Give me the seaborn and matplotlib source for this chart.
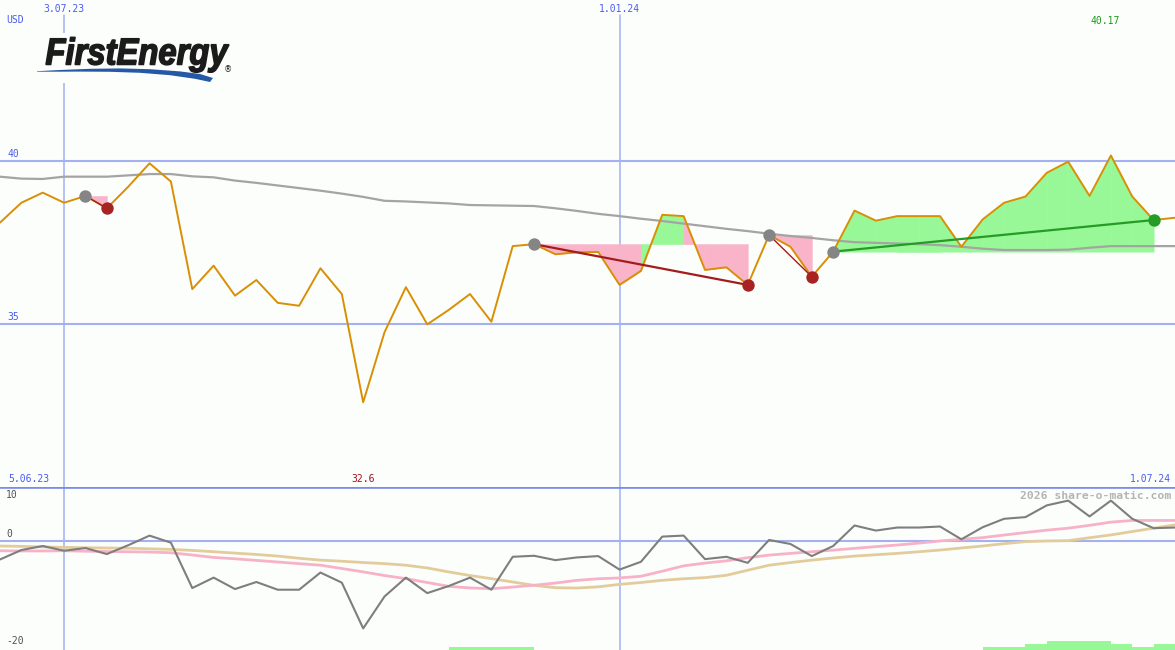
import numpy as np
import matplotlib
matplotlib.use("Agg")
import matplotlib.pyplot as plt
import matplotlib.transforms as mtransforms
import seaborn as sns
from matplotlib.textpath import TextPath
from matplotlib.patches import PathPatch, Rectangle, Polygon
from matplotlib.font_manager import FontProperties

# weekly closes, 12.06.23 .. 1.07.24
weeks = np.arange(56)
price = [38.11, 38.72, 39.03, 38.72, 38.93, 38.55, 39.21, 39.93, 39.37, 36.07,
         36.79, 35.87, 36.35, 35.65, 35.56, 36.71, 35.92, 32.60, 34.75, 36.13,
         34.99, 35.43, 35.92, 35.07, 37.39, 37.45, 37.14, 37.20, 37.21, 36.20,
         36.63, 38.35, 38.31, 36.66, 36.74, 36.20, 37.73, 37.37, 36.45, 37.22,
         38.48, 38.17, 38.31, 38.31, 38.31, 37.37, 38.21, 38.72, 38.91, 39.64,
         39.98, 38.93, 40.17, 38.91, 38.19, 38.26]
avg_line = [39.52, 39.46, 39.45, 39.52, 39.52, 39.52, 39.56, 39.60, 39.60, 39.53,
            39.50, 39.40, 39.33, 39.25, 39.17, 39.09, 39.00, 38.90, 38.78, 38.76,
            38.73, 38.70, 38.65, 38.64, 38.63, 38.62, 38.55, 38.47, 38.38, 38.31,
            38.23, 38.16, 38.08, 38.00, 37.92, 37.85, 37.77, 37.70, 37.64, 37.57,
            37.51, 37.49, 37.47, 37.45, 37.42, 37.37, 37.31, 37.27, 37.27, 37.27,
            37.28, 37.34, 37.39, 37.39, 37.39, 37.39]
# (entry week, exit week)
trades = [(4, 5), (25, 35), (36, 38), (39, 54)]

osc_gray = [-3.43, -1.68, -0.93, -1.81, -1.31, -2.43, -0.79, 0.99, -0.31, -8.72,
            -6.79, -8.91, -7.60, -9.03, -9.03, -5.85, -7.72, -16.2, -10.28, -6.79,
            -9.66, -8.35, -6.79, -9.03, -2.93, -2.74, -3.55, -3.05, -2.80, -5.30,
            -3.86, 0.81, 1.00, -3.36, -2.93, -4.05, 0.19, -0.56, -2.80, -0.93,
            2.87, 1.93, 2.49, 2.49, 2.68, 0.31, 2.55, 4.11, 4.42, 6.60,
            7.48, 4.55, 7.48, 4.11, 2.37, 2.49]
osc_pink = [-1.81, -1.85, -1.85, -1.81, -1.90, -1.95, -2.00, -2.05, -2.18, -2.60,
            -3.05, -3.30, -3.60, -3.90, -4.20, -4.49, -5.10, -5.73, -6.40, -6.98,
            -7.70, -8.41, -8.70, -8.85, -8.54, -8.20, -7.79, -7.30, -7.00, -6.85,
            -6.54, -5.60, -4.61, -4.10, -3.68, -3.10, -2.62, -2.30, -1.99, -1.70,
            -1.37, -1.05, -0.75, -0.40, 0.00, 0.30, 0.62, 1.10, 1.56, 2.00,
            2.37, 2.90, 3.49, 3.80, 3.80, 3.80]
osc_tan = [-0.93, -1.00, -1.10, -1.18, -1.25, -1.30, -1.35, -1.45, -1.56, -1.75,
           -1.99, -2.25, -2.50, -2.80, -3.20, -3.55, -3.75, -3.99, -4.20, -4.49,
           -5.00, -5.73, -6.40, -6.98, -7.60, -8.22, -8.66, -8.72, -8.50, -8.04,
           -7.70, -7.29, -7.00, -6.79, -6.36, -5.42, -4.49, -4.00, -3.55, -3.15,
           -2.80, -2.55, -2.30, -2.00, -1.68, -1.30, -0.93, -0.50, -0.12, 0.00,
           0.06, 0.60, 1.12, 1.75, 2.37, 2.99]
hist_green = [0] * 56
for w, h in [(21, 0.55), (22, 0.55), (23, 0.55), (24, 0.55), (46, 0.55), (47, 0.55),
             (48, 1.1), (49, 1.65), (50, 1.65), (51, 1.65), (52, 1.1), (53, 0.55), (54, 1.1)]:
    hist_green[w] = h

grid_col = "#a3b1f2"
lab_col = "#4a5cf0"
pink = "#f9b4ca"
green = "#98f898"
bg = "#fcfefc"

sns.set_theme(style="white")
plt.rcParams["font.family"] = ["DejaVu Sans Mono"]

fig = plt.figure(figsize=(11.75, 6.5), dpi=100, facecolor=bg)
top = fig.add_axes([0, 163 / 650, 1, 487 / 650])
bot = fig.add_axes([0, 0, 1, 163 / 650])
for ax in (top, bot):
    ax.set_facecolor(bg)
    ax.set_xlim(0, 55)
    ax.set_xticks([])
    ax.set_yticks([])
    for s in ax.spines.values():
        s.set_visible(False)
top.set_ylim(30, 44.94)
bot.set_ylim(-20.2, 10)

# grid
for y in (40, 35):
    top.axhline(y, color=grid_col, lw=1.5, zorder=1)
for x in (3, 29):
    top.axvline(x, ymax=1 - 15 / 487, color=grid_col, lw=1.1, zorder=1)
    bot.axvline(x, color=grid_col, lw=1.1, zorder=1)
bot.axhline(0, color=grid_col, lw=1.5, zorder=1)
bot.axhline(10, color="#7b8bec", lw=1.9, zorder=6)

# trade fills
p = np.array(price)
for e, x in trades:
    level = p[e]
    for i in range(e, x):
        col = green if p[i + 1] >= level else pink
        top.fill_between(weeks[i:i + 2], level, p[i:i + 2], facecolor=col,
                         edgecolor=col, lw=0.4, zorder=2)

sns.lineplot(x=weeks, y=avg_line, ax=top, color="#a4a4a4", linewidth=1.6, zorder=3)
sns.lineplot(x=weeks, y=price, ax=top, color="#d98f04", linewidth=1.4, zorder=4)

for e, x in trades:
    win = p[x] > p[e]
    top.plot([e, x], [p[e], p[x]], color="#259c25" if win else "#a31c1c",
             lw=1.6 if (x - e) > 3 else 1.0, zorder=5)
    top.scatter([e], [p[e]], s=80, color="#858585", zorder=6, lw=0)
    top.scatter([x], [p[x]], s=80, color="#259c25" if win else "#a82222", zorder=6, lw=0)

# oscillator panel
bot.bar(weeks, hist_green, bottom=-20.2, width=1, align="edge", color=green, lw=0, zorder=2)
sns.lineplot(x=weeks, y=osc_tan, ax=bot, color="#e3cc9c", linewidth=2, zorder=3)
sns.lineplot(x=weeks, y=osc_pink, ax=bot, color="#f8b2c8", linewidth=2, zorder=3)
sns.lineplot(x=weeks, y=osc_gray, ax=bot, color="#7e7e7e", linewidth=1.5, zorder=4)

# labels
fs = 7
ytr = top.get_yaxis_transform()
xtr = top.get_xaxis_transform()
for v in (40, 35):
    top.annotate(str(v), xy=(0, v), xycoords=ytr, xytext=(7, 2), textcoords="offset pixels",
                 ha="left", va="bottom", color=lab_col, fontsize=fs)
top.text(3, 1 - 9 / 487, "3.07.23", transform=xtr, ha="center", va="center", color=lab_col, fontsize=fs)
top.text(29, 1 - 9 / 487, "1.01.24", transform=xtr, ha="center", va="center", color=lab_col, fontsize=fs)
top.text(0.005, 1 - 20 / 487, "USD", transform=top.transAxes, ha="left", va="center", color=lab_col, fontsize=fs)
top.text(0.007, 8 / 487, "5.06.23", transform=top.transAxes, ha="left", va="center", color=lab_col, fontsize=fs)
top.text(0.9965, 8 / 487, "1.07.24", transform=top.transAxes, ha="right", va="center", color=lab_col, fontsize=fs)
imin = int(np.argmin(p))
imax = int(np.argmax(p))
top.text(imin, 8 / 487, f"{p[imin]:.1f}", transform=xtr, ha="center", va="center", color="#a01020", fontsize=fs)
top.text(imax - 0.25, 1 - 21 / 487, f"{p[imax]:.2f}", transform=xtr, ha="center", va="center", color="#1a9a1a", fontsize=fs)

btr = bot.get_yaxis_transform()
bot.annotate("10", xy=(0, 10), xycoords=btr, xytext=(6, -3), textcoords="offset pixels",
             ha="left", va="top", color="#505050", fontsize=fs)
bot.annotate("0", xy=(0, 0), xycoords=btr, xytext=(6, 2), textcoords="offset pixels",
             ha="left", va="bottom", color="#505050", fontsize=fs)
bot.annotate("-20", xy=(0, -20), xycoords=btr, xytext=(6, 3), textcoords="offset pixels",
             ha="left", va="bottom", color="#505050", fontsize=fs)
bot.text(0.9965, 1 - 9 / 163, "2026 share-o-matic.com", transform=bot.transAxes, ha="right",
         va="center", color="#b4b4b4", fontsize=8.2, fontweight="bold")

# logo
ov = fig.add_axes([0, 0, 1, 1])
ov.set_xlim(0, 1175)
ov.set_ylim(650, 0)
ov.axis("off")
ov.patch.set_alpha(0)
ov.add_patch(Rectangle((40, 33), 196, 50, color=bg, lw=0))
tp = TextPath((0, 0), "FirstEnergy", size=1,
              prop=FontProperties(family="Liberation Sans", weight="bold", style="italic"))
bb = tp.get_extents()
sx = 183 / bb.width
sy = 27 / 0.72
tr = mtransforms.Affine2D().translate(-bb.x0, 0).scale(sx, -sy).translate(46, 64.5) + ov.transData
ov.add_patch(PathPatch(tp, transform=tr, facecolor="#1b1b1b", edgecolor="#1b1b1b", lw=1.1))
swoosh = [(37, 71.2), (60, 70), (90, 68.8), (120, 68.4), (150, 69.2), (180, 71.4), (200, 74),
          (213, 78), (210, 82), (195, 78.8), (170, 75.2), (140, 72.8), (110, 71.8), (80, 71.6),
          (55, 71.7), (37, 71.7)]
ov.add_patch(Polygon(swoosh, closed=True, color="#2559a8", lw=0))
ov.text(228, 70, "®", ha="center", va="center", fontsize=6, color="#1b1b1b", family="DejaVu Sans")

fig.savefig("out.png", dpi=100, facecolor=bg)
